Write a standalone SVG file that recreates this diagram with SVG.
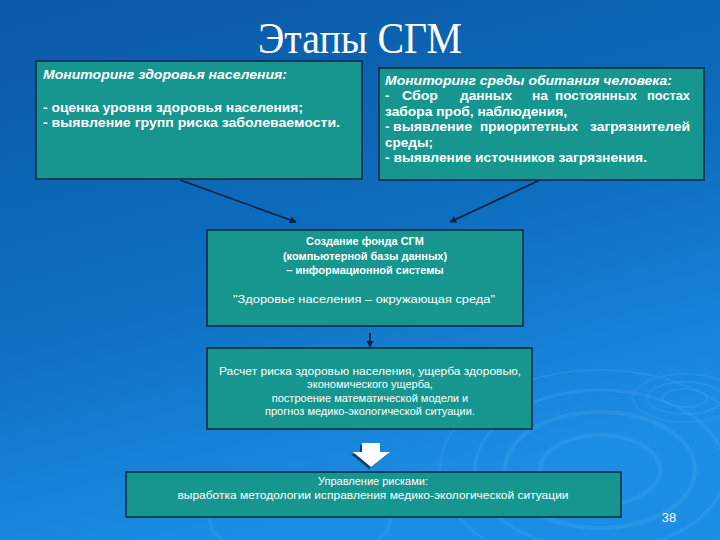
<svg xmlns="http://www.w3.org/2000/svg" width="720" height="540" viewBox="0 0 720 540">
<defs>
<linearGradient id="bg" x1="0" y1="0" x2="0.35" y2="1">
<stop offset="0" stop-color="#0a58a5"/>
<stop offset="0.55" stop-color="#0e6ec0"/>
<stop offset="1" stop-color="#1c8ee6"/>
</linearGradient>
<marker id="ah" viewBox="0 0 10 10" refX="9" refY="5" markerWidth="7" markerHeight="7" orient="auto" markerUnits="userSpaceOnUse">
<path d="M0,0 L10,5 L0,10 z" fill="#0b1e3a"/>
</marker>
<style>
.box{fill:#17968f;stroke:#0b2440;stroke-width:1.5}
.t{font-family:"Liberation Sans",Arial,sans-serif;fill:#ffffff;font-size:13px}
.b{font-weight:bold}
.i{font-style:italic}
.c{text-anchor:middle}
.s{font-size:11px}
.conn{stroke:#0b1e3a;stroke-width:1.6;fill:none}
.rip{fill:none;stroke:#5fb4f0;stroke-opacity:0.2}
</style>
</defs>
<rect width="720" height="540" fill="url(#bg)"/>
<g id="ripples">
<ellipse class="rip" cx="685" cy="398" rx="22" ry="9" stroke-width="2"/>
<ellipse class="rip" cx="685" cy="398" rx="38" ry="16" stroke-width="2"/>
<ellipse class="rip" cx="685" cy="398" rx="52" ry="24" stroke-width="1.5"/>
<ellipse class="rip" cx="600" cy="470" rx="60" ry="35" stroke-width="4"/>
<ellipse class="rip" cx="600" cy="470" rx="95" ry="58" stroke-width="4"/>
<ellipse class="rip" cx="600" cy="470" rx="125" ry="80" stroke-width="3"/>
<ellipse class="rip" cx="600" cy="470" rx="160" ry="100" stroke-width="2"/>
<ellipse class="rip" cx="300" cy="520" rx="90" ry="40" stroke-width="3"/>
</g>
<text x="360" y="53" font-family="'Liberation Serif','Times New Roman',serif" font-size="44" fill="#ffffff" text-anchor="middle" textLength="204" lengthAdjust="spacingAndGlyphs">Этапы СГМ</text>
<g id="connectors">
<line class="conn" x1="180" y1="180" x2="296" y2="222" marker-end="url(#ah)"/>
<line class="conn" x1="540" y1="180" x2="450" y2="222" marker-end="url(#ah)"/>
<line class="conn" x1="370" y1="333" x2="370" y2="347" marker-end="url(#ah)"/>
<g id="blockArrow">
<path d="M351,454 L360,454 L360,445 L378,445 L378,454 L388,454 L369,469 Z" fill="#0b2440" opacity="0.7"/>
<path d="M353,452 L362,452 L362,443 L380,443 L380,452 L390,452 L371,467 Z" fill="#ffffff"/>
</g>
</g>
<g id="node1">
<rect class="box" x="36" y="61" width="326" height="118"/>
<text class="t b i" x="43" y="79" textLength="244" lengthAdjust="spacingAndGlyphs">Мониторинг здоровья населения:</text>
<text class="t b" x="43" y="112" textLength="260" lengthAdjust="spacingAndGlyphs">- оценка уровня здоровья населения;</text>
<text class="t b" x="43" y="127" textLength="297" lengthAdjust="spacingAndGlyphs">- выявление групп риска заболеваемости.</text>
</g>
<g id="node2">
<rect class="box" x="379" y="68" width="325" height="112"/>
<text class="t b i" x="385" y="85" textLength="287" lengthAdjust="spacingAndGlyphs">Мониторинг среды обитания человека:</text>
<text class="t b" x="385" y="100">-</text>
<text class="t b" x="402" y="100" textLength="36" lengthAdjust="spacingAndGlyphs">Сбор</text>
<text class="t b" x="460" y="100" textLength="52" lengthAdjust="spacingAndGlyphs">данных</text>
<text class="t b" x="532" y="100" textLength="16" lengthAdjust="spacingAndGlyphs">на</text>
<text class="t b" x="555" y="100" textLength="82" lengthAdjust="spacingAndGlyphs">постоянных</text>
<text class="t b" x="647" y="100" textLength="43" lengthAdjust="spacingAndGlyphs">постах</text>
<text class="t b" x="385" y="116" textLength="182" lengthAdjust="spacingAndGlyphs">забора проб, наблюдения,</text>
<text class="t b" x="385" y="131">-</text>
<text class="t b" x="393" y="131" textLength="79" lengthAdjust="spacingAndGlyphs">выявление</text>
<text class="t b" x="480" y="131" textLength="98" lengthAdjust="spacingAndGlyphs">приоритетных</text>
<text class="t b" x="590" y="131" textLength="100" lengthAdjust="spacingAndGlyphs">загрязнителей</text>
<text class="t b" x="385" y="147" textLength="48" lengthAdjust="spacingAndGlyphs">среды;</text>
<text class="t b" x="385" y="162" textLength="262" lengthAdjust="spacingAndGlyphs">- выявление источников загрязнения.</text>
</g>
<g id="node3">
<rect class="box" x="207" y="230" width="316" height="96"/>
<text class="t b s c" x="365" y="245">Создание фонда СГМ</text>
<text class="t b s c" x="365" y="260">(компьютерной базы данных)</text>
<text class="t b s c" x="365" y="274">– информационной системы</text>
<text class="t s c" x="364" y="303" textLength="262" lengthAdjust="spacingAndGlyphs">"Здоровье населения – окружающая среда"</text>
</g>
<g id="node4">
<rect class="box" x="207" y="348" width="325" height="81"/>
<text class="t s c" x="370" y="375" textLength="302" lengthAdjust="spacingAndGlyphs">Расчет риска здоровью населения, ущерба здоровью,</text>
<text class="t s c" x="370" y="388">экономического ущерба,</text>
<text class="t s c" x="370" y="402">построение математической модели и</text>
<text class="t s c" x="370" y="415">прогноз медико-экологической ситуации.</text>
</g>
<g id="node5">
<rect class="box" x="126" y="472" width="495" height="45"/>
<text class="t s c" x="373" y="485">Управление рисками:</text>
<text class="t s c" x="373" y="499" textLength="391" lengthAdjust="spacingAndGlyphs">выработка методологии исправления медико-экологической ситуации</text>
</g>
<text x="669" y="522" font-family="'Liberation Sans',Arial,sans-serif" font-size="13" fill="#ffffff" text-anchor="middle">38</text>
</svg>
